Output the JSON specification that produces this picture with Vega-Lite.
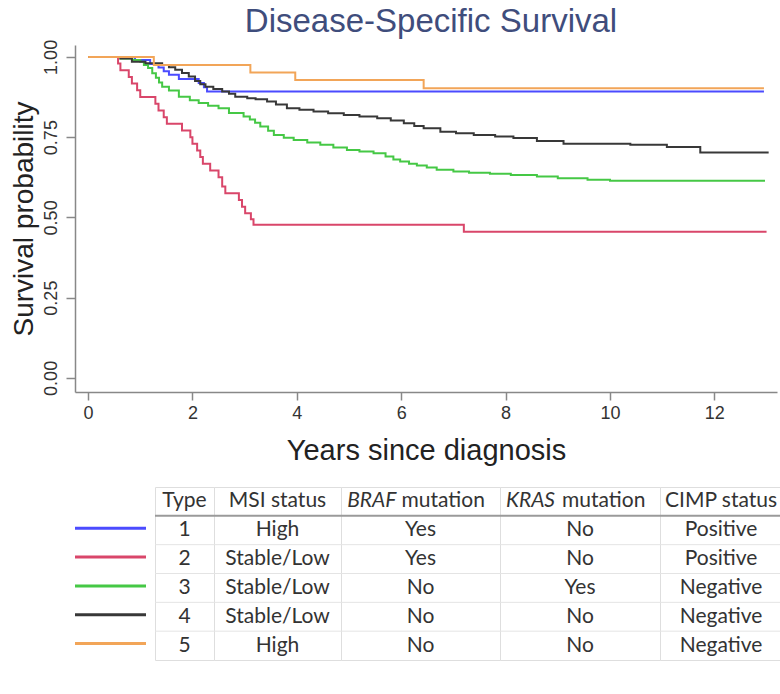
{
  "$schema": "https://vega.github.io/schema/vega-lite/v6.json",
  "padding": {"left": 9, "top": 6, "right": 0, "bottom": 0},
  "background": "white",
  "config": {"view": {"stroke": null}, "font": "Liberation Sans"},
  "bounds": "flush",
  "spacing": 95,
  "datasets": {
    "curves": [
      {"type": "1", "t": 0, "s": 1},
      {"type": "1", "t": 0.9, "s": 0.99},
      {"type": "1", "t": 1.19, "s": 0.978},
      {"type": "1", "t": 1.35, "s": 0.967},
      {"type": "1", "t": 1.45, "s": 0.955},
      {"type": "1", "t": 1.55, "s": 0.944},
      {"type": "1", "t": 1.74, "s": 0.931},
      {"type": "1", "t": 2.12, "s": 0.919},
      {"type": "1", "t": 2.22, "s": 0.905},
      {"type": "1", "t": 2.28, "s": 0.892},
      {"type": "1", "t": 12.95, "s": 0.892},
      {"type": "2", "t": 0, "s": 1},
      {"type": "2", "t": 0.575, "s": 0.979},
      {"type": "2", "t": 0.62, "s": 0.958},
      {"type": "2", "t": 0.78, "s": 0.937},
      {"type": "2", "t": 0.84, "s": 0.917},
      {"type": "2", "t": 0.94, "s": 0.896},
      {"type": "2", "t": 1.0, "s": 0.875},
      {"type": "2", "t": 1.29, "s": 0.854},
      {"type": "2", "t": 1.35, "s": 0.833},
      {"type": "2", "t": 1.45, "s": 0.812},
      {"type": "2", "t": 1.51, "s": 0.792},
      {"type": "2", "t": 1.8, "s": 0.771},
      {"type": "2", "t": 1.96, "s": 0.75},
      {"type": "2", "t": 2.0, "s": 0.729},
      {"type": "2", "t": 2.09, "s": 0.708},
      {"type": "2", "t": 2.15, "s": 0.688},
      {"type": "2", "t": 2.2, "s": 0.667},
      {"type": "2", "t": 2.34, "s": 0.646},
      {"type": "2", "t": 2.5, "s": 0.625},
      {"type": "2", "t": 2.57, "s": 0.596},
      {"type": "2", "t": 2.63, "s": 0.575},
      {"type": "2", "t": 2.89, "s": 0.554},
      {"type": "2", "t": 2.95, "s": 0.533},
      {"type": "2", "t": 3.01, "s": 0.513},
      {"type": "2", "t": 3.12, "s": 0.494},
      {"type": "2", "t": 3.17, "s": 0.477},
      {"type": "2", "t": 7.2, "s": 0.455},
      {"type": "2", "t": 13.0, "s": 0.455},
      {"type": "3", "t": 0, "s": 1},
      {"type": "3", "t": 0.62, "s": 0.995},
      {"type": "3", "t": 0.85, "s": 0.99},
      {"type": "3", "t": 1.0, "s": 0.985},
      {"type": "3", "t": 1.07, "s": 0.975},
      {"type": "3", "t": 1.15, "s": 0.965},
      {"type": "3", "t": 1.23, "s": 0.949},
      {"type": "3", "t": 1.3, "s": 0.935},
      {"type": "3", "t": 1.36, "s": 0.92},
      {"type": "3", "t": 1.42, "s": 0.907},
      {"type": "3", "t": 1.55, "s": 0.895},
      {"type": "3", "t": 1.74, "s": 0.876},
      {"type": "3", "t": 1.95, "s": 0.865},
      {"type": "3", "t": 2.12, "s": 0.856},
      {"type": "3", "t": 2.3, "s": 0.848},
      {"type": "3", "t": 2.5, "s": 0.84},
      {"type": "3", "t": 2.7, "s": 0.825},
      {"type": "3", "t": 2.98, "s": 0.814},
      {"type": "3", "t": 3.1, "s": 0.805},
      {"type": "3", "t": 3.2, "s": 0.795},
      {"type": "3", "t": 3.3, "s": 0.783},
      {"type": "3", "t": 3.45, "s": 0.77},
      {"type": "3", "t": 3.56, "s": 0.757},
      {"type": "3", "t": 3.75, "s": 0.748},
      {"type": "3", "t": 3.94, "s": 0.741},
      {"type": "3", "t": 4.2, "s": 0.733},
      {"type": "3", "t": 4.45, "s": 0.726},
      {"type": "3", "t": 4.7, "s": 0.718},
      {"type": "3", "t": 4.96, "s": 0.71},
      {"type": "3", "t": 5.2, "s": 0.705},
      {"type": "3", "t": 5.47, "s": 0.7},
      {"type": "3", "t": 5.7, "s": 0.69},
      {"type": "3", "t": 5.85, "s": 0.68},
      {"type": "3", "t": 5.98, "s": 0.674},
      {"type": "3", "t": 6.15, "s": 0.667},
      {"type": "3", "t": 6.3, "s": 0.662},
      {"type": "3", "t": 6.49, "s": 0.655},
      {"type": "3", "t": 6.68, "s": 0.648},
      {"type": "3", "t": 7.0, "s": 0.643},
      {"type": "3", "t": 7.3, "s": 0.639},
      {"type": "3", "t": 7.7, "s": 0.636},
      {"type": "3", "t": 8.1, "s": 0.632},
      {"type": "3", "t": 8.6, "s": 0.627},
      {"type": "3", "t": 9.0, "s": 0.622},
      {"type": "3", "t": 9.57, "s": 0.617},
      {"type": "3", "t": 10.0, "s": 0.614},
      {"type": "3", "t": 12.97, "s": 0.614},
      {"type": "4", "t": 0, "s": 1},
      {"type": "4", "t": 0.62, "s": 0.995},
      {"type": "4", "t": 0.84, "s": 0.985},
      {"type": "4", "t": 1.1, "s": 0.98},
      {"type": "4", "t": 1.42, "s": 0.975},
      {"type": "4", "t": 1.55, "s": 0.968},
      {"type": "4", "t": 1.67, "s": 0.96},
      {"type": "4", "t": 1.8, "s": 0.95},
      {"type": "4", "t": 1.93, "s": 0.939},
      {"type": "4", "t": 2.05, "s": 0.925},
      {"type": "4", "t": 2.15, "s": 0.915},
      {"type": "4", "t": 2.25, "s": 0.907},
      {"type": "4", "t": 2.4, "s": 0.9},
      {"type": "4", "t": 2.57, "s": 0.892},
      {"type": "4", "t": 2.7, "s": 0.885},
      {"type": "4", "t": 2.82, "s": 0.876},
      {"type": "4", "t": 3.05, "s": 0.871},
      {"type": "4", "t": 3.21, "s": 0.868},
      {"type": "4", "t": 3.43, "s": 0.861},
      {"type": "4", "t": 3.6, "s": 0.852},
      {"type": "4", "t": 3.81, "s": 0.84},
      {"type": "4", "t": 4.05, "s": 0.835},
      {"type": "4", "t": 4.32, "s": 0.83},
      {"type": "4", "t": 4.6, "s": 0.824},
      {"type": "4", "t": 4.9, "s": 0.819},
      {"type": "4", "t": 5.2, "s": 0.814},
      {"type": "4", "t": 5.54, "s": 0.809},
      {"type": "4", "t": 5.8, "s": 0.802},
      {"type": "4", "t": 6.05, "s": 0.793},
      {"type": "4", "t": 6.25, "s": 0.785},
      {"type": "4", "t": 6.43, "s": 0.778},
      {"type": "4", "t": 6.75, "s": 0.767},
      {"type": "4", "t": 7.05, "s": 0.762},
      {"type": "4", "t": 7.39, "s": 0.757},
      {"type": "4", "t": 7.8, "s": 0.752},
      {"type": "4", "t": 8.15, "s": 0.747},
      {"type": "4", "t": 8.6, "s": 0.738},
      {"type": "4", "t": 9.11, "s": 0.729},
      {"type": "4", "t": 10.39, "s": 0.726},
      {"type": "4", "t": 11.09, "s": 0.719},
      {"type": "4", "t": 11.73, "s": 0.702},
      {"type": "4", "t": 13.04, "s": 0.702},
      {"type": "5", "t": 0, "s": 1},
      {"type": "5", "t": 1.26, "s": 0.975},
      {"type": "5", "t": 3.11, "s": 0.951},
      {"type": "5", "t": 3.97, "s": 0.928},
      {"type": "5", "t": 6.43, "s": 0.902},
      {"type": "5", "t": 12.95, "s": 0.902}
    ],
    "table": [
      {"row": "1", "type": "1", "msi": "High", "braf": "Yes", "kras": "No", "cimp": "Positive"},
      {"row": "2", "type": "2", "msi": "Stable/Low", "braf": "Yes", "kras": "No", "cimp": "Positive"},
      {"row": "3", "type": "3", "msi": "Stable/Low", "braf": "No", "kras": "Yes", "cimp": "Negative"},
      {"row": "4", "type": "4", "msi": "Stable/Low", "braf": "No", "kras": "No", "cimp": "Negative"},
      {"row": "5", "type": "5", "msi": "High", "braf": "No", "kras": "No", "cimp": "Negative"}
    ],
    "header": [
      {"type": "Type", "msi": "MSI status", "braf": "BRAF", "braf2": "mutation", "kras": "KRAS", "kras2": "mutation", "cimp": "CIMP status"}
    ]
  },
  "vconcat": [
    {
      "width": 702,
      "height": 347,
      "title": {"text": "Disease-Specific Survival", "fontSize": 33, "font": "Liberation Sans", "fontWeight": "normal", "color": "#3f4d7c", "anchor": "middle", "frame": "group", "offset": 0, "dx": 5},
      "data": {"name": "curves"},
      "mark": {"type": "line", "interpolate": "step-after", "strokeWidth": 2},
      "encoding": {
        "x": {"field": "t", "type": "quantitative",
          "scale": {"domain": [-0.25, 13.2], "nice": false, "zero": false},
          "axis": {"values": [0, 2, 4, 6, 8, 10, 12], "title": "Years since diagnosis", "titleFontSize": 29, "titleFontWeight": "normal", "titleColor": "#222222", "labelFontSize": 18, "labelColor": "#333333", "domainColor": "#888888", "domainWidth": 1.5, "tickColor": "#888888", "tickWidth": 1.5, "tickSize": 8, "labelPadding": 4, "titlePadding": 14, "grid": false, "labelFlush": false}},
        "y": {"field": "s", "type": "quantitative",
          "scale": {"domain": [-0.044, 1.037], "nice": false, "zero": false},
          "axis": {"values": [0, 0.25, 0.5, 0.75, 1], "format": ".2f", "title": "Survival probability", "titleFontSize": 28, "titleFontWeight": "normal", "titleColor": "#222222", "labelFontSize": 18, "labelColor": "#333333", "labelAngle": 270, "labelAlign": "center", "labelBaseline": "alphabetic", "labelPadding": 10, "domainColor": "#888888", "domainWidth": 1.5, "tickColor": "#888888", "tickWidth": 1.5, "tickSize": 9, "titlePadding": 4, "grid": false}},
        "color": {"field": "type", "type": "nominal",
          "scale": {"domain": ["1", "2", "3", "4", "5"], "range": ["#4b4bff", "#d9466a", "#45c845", "#383838", "#f2a558"]},
          "legend": null}
      }
    },
    {
      "hconcat": [
        {
          "width": 71,
          "height": 173,
          "data": {"name": "table"},
          "mark": {"type": "rule", "strokeWidth": 3, "yOffset": -2},
          "encoding": {
            "y": {"field": "row", "type": "ordinal", "bandPosition": 0.5, "scale": {"type": "band", "domain": ["0", "1", "2", "3", "4", "5"], "paddingInner": 0, "paddingOuter": 0}, "axis": null},
            "color": {"field": "type", "type": "nominal", "scale": {"domain": ["1", "2", "3", "4", "5"], "range": ["#4040f8", "#e07590", "#6ad26a", "#6e6e6e", "#f5b26c"]}, "legend": null}
          }
        },
        {
          "bounds": "flush",
          "spacing": 0,
          "hconcat": [
            {
              "width": 59, "height": 173,
              "view": {"stroke": "#dedede"},
              "layer": [
                {"data": {"name": "table"}, "transform": [{"filter": "datum.row != '1'"}], "mark": {"type": "rule", "color": "#e4e4e4"}, "encoding": {"y": {"field": "row", "type": "ordinal", "bandPosition": 0, "scale": {"type": "band", "domain": ["0", "1", "2", "3", "4", "5"], "paddingInner": 0, "paddingOuter": 0}, "axis": null}}},
                {"data": {"name": "table"}, "transform": [{"filter": "datum.row == '1'"}], "mark": {"type": "rule", "color": "#9a9a9a", "strokeWidth": 2}, "encoding": {"y": {"field": "row", "type": "ordinal", "bandPosition": 0}}},
                {"data": {"name": "table"}, "mark": {"type": "text", "font": "Lato", "fontSize": 21, "color": "#333333"}, "encoding": {"y": {"field": "row", "type": "ordinal"}, "text": {"field": "type"}}},
                {"data": {"name": "header"}, "mark": {"type": "text", "font": "Lato", "fontSize": 21, "color": "#333333"}, "encoding": {"y": {"datum": "0", "type": "ordinal"}, "text": {"field": "type"}}}
              ]
            },
            {
              "width": 127, "height": 173,
              "view": {"stroke": "#dedede"},
              "layer": [
                {"data": {"name": "table"}, "transform": [{"filter": "datum.row != '1'"}], "mark": {"type": "rule", "color": "#e4e4e4"}, "encoding": {"y": {"field": "row", "type": "ordinal", "bandPosition": 0, "scale": {"type": "band", "domain": ["0", "1", "2", "3", "4", "5"], "paddingInner": 0, "paddingOuter": 0}, "axis": null}}},
                {"data": {"name": "table"}, "transform": [{"filter": "datum.row == '1'"}], "mark": {"type": "rule", "color": "#9a9a9a", "strokeWidth": 2}, "encoding": {"y": {"field": "row", "type": "ordinal", "bandPosition": 0}}},
                {"data": {"name": "table"}, "mark": {"type": "text", "font": "Lato", "fontSize": 21, "color": "#333333"}, "encoding": {"y": {"field": "row", "type": "ordinal"}, "text": {"field": "msi"}}},
                {"data": {"name": "header"}, "mark": {"type": "text", "font": "Lato", "fontSize": 21, "color": "#333333"}, "encoding": {"y": {"datum": "0", "type": "ordinal"}, "text": {"field": "msi"}}}
              ]
            },
            {
              "width": 159, "height": 173,
              "view": {"stroke": "#dedede"},
              "layer": [
                {"data": {"name": "table"}, "transform": [{"filter": "datum.row != '1'"}], "mark": {"type": "rule", "color": "#e4e4e4"}, "encoding": {"y": {"field": "row", "type": "ordinal", "bandPosition": 0, "scale": {"type": "band", "domain": ["0", "1", "2", "3", "4", "5"], "paddingInner": 0, "paddingOuter": 0}, "axis": null}}},
                {"data": {"name": "table"}, "transform": [{"filter": "datum.row == '1'"}], "mark": {"type": "rule", "color": "#9a9a9a", "strokeWidth": 2}, "encoding": {"y": {"field": "row", "type": "ordinal", "bandPosition": 0}}},
                {"data": {"name": "table"}, "mark": {"type": "text", "font": "Lato", "fontSize": 21, "color": "#333333"}, "encoding": {"y": {"field": "row", "type": "ordinal"}, "text": {"field": "braf"}}},
                {"data": {"name": "header"}, "mark": {"type": "text", "font": "Lato", "fontSize": 21, "fontStyle": "italic", "color": "#333333", "align": "right", "dx": -24}, "encoding": {"y": {"datum": "0", "type": "ordinal"}, "text": {"field": "braf"}}},
                {"data": {"name": "header"}, "mark": {"type": "text", "font": "Lato", "fontSize": 21, "color": "#333333", "align": "left", "dx": -19}, "encoding": {"y": {"datum": "0", "type": "ordinal"}, "text": {"field": "braf2"}}}
              ]
            },
            {
              "width": 160, "height": 173,
              "view": {"stroke": "#dedede"},
              "layer": [
                {"data": {"name": "table"}, "transform": [{"filter": "datum.row != '1'"}], "mark": {"type": "rule", "color": "#e4e4e4"}, "encoding": {"y": {"field": "row", "type": "ordinal", "bandPosition": 0, "scale": {"type": "band", "domain": ["0", "1", "2", "3", "4", "5"], "paddingInner": 0, "paddingOuter": 0}, "axis": null}}},
                {"data": {"name": "table"}, "transform": [{"filter": "datum.row == '1'"}], "mark": {"type": "rule", "color": "#9a9a9a", "strokeWidth": 2}, "encoding": {"y": {"field": "row", "type": "ordinal", "bandPosition": 0}}},
                {"data": {"name": "table"}, "mark": {"type": "text", "font": "Lato", "fontSize": 21, "color": "#333333"}, "encoding": {"y": {"field": "row", "type": "ordinal"}, "text": {"field": "kras"}}},
                {"data": {"name": "header"}, "mark": {"type": "text", "font": "Lato", "fontSize": 21, "fontStyle": "italic", "color": "#333333", "align": "right", "dx": -25}, "encoding": {"y": {"datum": "0", "type": "ordinal"}, "text": {"field": "kras"}}},
                {"data": {"name": "header"}, "mark": {"type": "text", "font": "Lato", "fontSize": 21, "color": "#333333", "align": "left", "dx": -18}, "encoding": {"y": {"datum": "0", "type": "ordinal"}, "text": {"field": "kras2"}}}
              ]
            },
            {
              "width": 122, "height": 173,
              "view": {"stroke": "#dedede"},
              "layer": [
                {"data": {"name": "table"}, "transform": [{"filter": "datum.row != '1'"}], "mark": {"type": "rule", "color": "#e4e4e4"}, "encoding": {"y": {"field": "row", "type": "ordinal", "bandPosition": 0, "scale": {"type": "band", "domain": ["0", "1", "2", "3", "4", "5"], "paddingInner": 0, "paddingOuter": 0}, "axis": null}}},
                {"data": {"name": "table"}, "transform": [{"filter": "datum.row == '1'"}], "mark": {"type": "rule", "color": "#9a9a9a", "strokeWidth": 2}, "encoding": {"y": {"field": "row", "type": "ordinal", "bandPosition": 0}}},
                {"data": {"name": "table"}, "mark": {"type": "text", "font": "Lato", "fontSize": 21, "color": "#333333"}, "encoding": {"y": {"field": "row", "type": "ordinal"}, "text": {"field": "cimp"}}},
                {"data": {"name": "header"}, "mark": {"type": "text", "font": "Lato", "fontSize": 21, "color": "#333333"}, "encoding": {"y": {"datum": "0", "type": "ordinal"}, "text": {"field": "cimp"}}}
              ]
            }
          ]
        }
      ],
      "bounds": "flush",
      "spacing": 9
    }
  ]
}
